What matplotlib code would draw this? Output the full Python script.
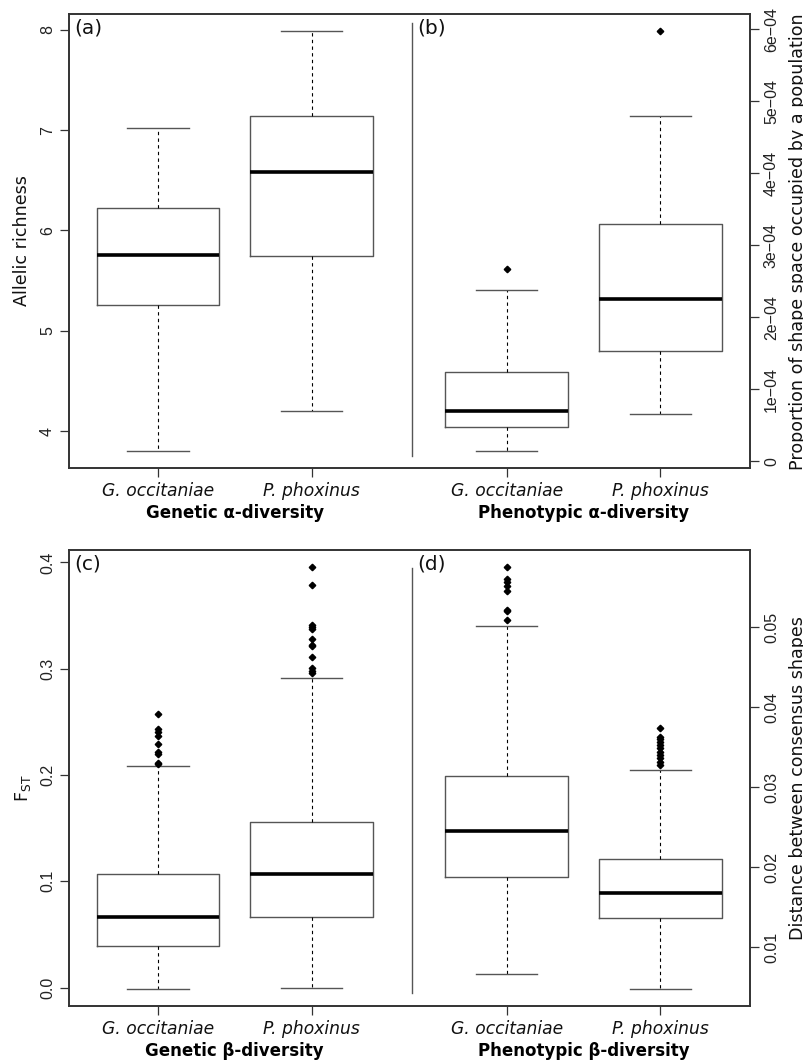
import numpy as np
import matplotlib.pyplot as plt
from matplotlib.transforms import blended_transform_factory

plt.rcParams['font.family'] = ['DejaVu Sans']

species = ['G. occitaniae', 'P. phoxinus']

# (a) allelic richness
ar_lo = [3.80, 4.20]
ar_q1 = [5.26, 5.75]
ar_med = [5.755, 6.586]
ar_q3 = [6.227, 7.143]
ar_hi = [7.02, 7.99]
ar_out = [[], []]

# (b) proportion of shape space occupied, in units of 1e-04
ps_lo = [0.139, 0.656]
ps_q1 = [0.48, 1.529]
ps_med = [0.698, 2.253]
ps_q3 = [1.238, 3.296]
ps_hi = [2.378, 4.788]
ps_out = [[2.673], [5.975]]

# (c) FST
fst_lo = [-0.0015, 0.0]
fst_q1 = [0.0386, 0.0668]
fst_med = [0.0662, 0.1066]
fst_q3 = [0.1069, 0.1561]
fst_hi = [0.2085, 0.2913]
fst_out = [[0.2577, 0.2430, 0.2408, 0.2367, 0.2292, 0.2214, 0.2201, 0.2116, 0.2104],
           [0.3957, 0.3790, 0.3411, 0.3389, 0.3371, 0.3282, 0.3226, 0.3214,
            0.3107, 0.3007, 0.2979, 0.2957]]

# (d) distance between consensus shapes
ds_lo = [0.00658, 0.00475]
ds_q1 = [0.01875, 0.01366]
ds_med = [0.02454, 0.01683]
ds_q3 = [0.03145, 0.02100]
ds_hi = [0.05016, 0.03213]
ds_out = [[0.05758, 0.05604, 0.05563, 0.0552, 0.05458, 0.05216, 0.0520, 0.05088],
          [0.03745, 0.03633, 0.0360, 0.03566, 0.03525, 0.03488, 0.03441, 0.03404,
           0.03363, 0.0332, 0.03279]]

ar_ticks = [4, 5, 6, 7, 8]
ar_labels = ['4', '5', '6', '7', '8']
ps_ticks = [0, 1e-4, 2e-4, 3e-4, 4e-4, 5e-4, 6e-4]
ps_labels = ['0', '1e\u221204', '2e\u221204', '3e\u221204', '4e\u221204', '5e\u221204', '6e\u221204']
fst_ticks = [0.0, 0.1, 0.2, 0.3, 0.4]
fst_labels = ['0.0', '0.1', '0.2', '0.3', '0.4']
ds_ticks = [0.01, 0.02, 0.03, 0.04, 0.05]
ds_labels = ['0.01', '0.02', '0.03', '0.04', '0.05']

W, H = 804, 1061
gen_pos = [1, 2]
phe_pos = [3.27, 4.27]


def make_stats(lo, q1, med, q3, hi, out, scale=1.0):
    return [dict(whislo=lo[i] * scale, q1=q1[i] * scale, med=med[i] * scale,
                 q3=q3[i] * scale, whishi=hi[i] * scale,
                 fliers=np.array(out[i]) * scale) for i in range(2)]


def r_limits(st):
    vals = []
    for s in st:
        vals += [s['whislo'], s['whishi']] + list(s['fliers'])
    lo, hi = min(vals), max(vals)
    pad = 0.04 * (hi - lo)
    return lo - pad, hi + pad


def draw_boxes(ax, st, pos):
    ax.bxp(st, positions=pos, widths=0.8, capwidths=0.4, manage_ticks=False,
           boxprops=dict(color='#555555', lw=1.0),
           medianprops=dict(color='black', lw=2.6, solid_capstyle='butt'),
           whiskerprops=dict(color='black', lw=0.8, linestyle=(0, (3, 3))),
           capprops=dict(color='#555555', lw=1.0),
           flierprops=dict(marker='D', markerfacecolor='black',
                           markeredgecolor='black', markersize=3.3))


fig = plt.figure(figsize=(W / 100, H / 100), dpi=100)

panels = [
    dict(top=14, bottom=468, gen=make_stats(ar_lo, ar_q1, ar_med, ar_q3, ar_hi, ar_out),
         phe=make_stats(ps_lo, ps_q1, ps_med, ps_q3, ps_hi, ps_out, 1e-4),
         lt=(ar_ticks, ar_labels), rt=(ps_ticks, ps_labels),
         letters=('(a)', '(b)'), sep=(0.0264, 0.981),
         xl=('Genetic \u03b1-diversity', 'Phenotypic \u03b1-diversity')),
    dict(top=550, bottom=1006, gen=make_stats(fst_lo, fst_q1, fst_med, fst_q3, fst_hi, fst_out),
         phe=make_stats(ds_lo, ds_q1, ds_med, ds_q3, ds_hi, ds_out),
         lt=(fst_ticks, fst_labels), rt=(ds_ticks, ds_labels),
         letters=('(c)', '(d)'), sep=(0.0279, 0.961),
         xl=('Genetic \u03b2-diversity', 'Phenotypic \u03b2-diversity')),
]

num_font = dict(fontfamily='Liberation Sans', fontsize=11.5)

for p in panels:
    ax = fig.add_axes([69 / W, 1 - p['bottom'] / H, 681 / W, (p['bottom'] - p['top']) / H])
    ax2 = ax.twinx()
    draw_boxes(ax, p['gen'], gen_pos)
    draw_boxes(ax2, p['phe'], phe_pos)
    ax.set_xlim(0.4206, 4.854)
    ax.set_ylim(*r_limits(p['gen']))
    ax2.set_ylim(*r_limits(p['phe']))

    for a in (ax, ax2):
        for sp in a.spines.values():
            sp.set_color('#333333')
            sp.set_linewidth(1.2)
        a.tick_params(direction='out', length=6.5, width=0.9, color='#333333', pad=3.5)

    ax.set_xticks(gen_pos + phe_pos, species * 2, fontstyle='italic', fontsize=12.3,
                  color='#111111')
    ax.set_yticks(p['lt'][0], p['lt'][1], rotation=90, va='center', ha='right',
                  color='#222222', **num_font)
    ax2.set_yticks(p['rt'][0], p['rt'][1], rotation=90, va='center', ha='left',
                   color='#222222', **num_font)

    ax.axvline(2.652, ymin=p['sep'][0], ymax=p['sep'][1], color='#555555', lw=1.0)

    ax.text(0.0075, 0.99, p['letters'][0], transform=ax.transAxes, ha='left', va='top',
            fontsize=14.5, color='#111111')
    ax.text(0.511, 0.99, p['letters'][1], transform=ax.transAxes, ha='left', va='top',
            fontsize=14.5, color='#111111')

    trans = blended_transform_factory(ax.transData, fig.transFigure)
    y_xl = 1 - (p['bottom'] + 45) / H
    ax.text(1.5, y_xl, p['xl'][0], transform=trans, ha='center', va='center',
            fontweight='bold', fontsize=12, clip_on=False)
    ax.text(3.77, y_xl, p['xl'][1], transform=trans, ha='center', va='center',
            fontweight='bold', fontsize=12, clip_on=False)

fig.text(13 / W, 1 - 241 / H, 'Allelic richness', rotation=90, ha='left', va='center',
         fontsize=12.6, color='#111111')
fig.text(789 / W, 1 - 470 / H, 'Proportion of shape space occupied by a population',
         rotation=90, ha='left', va='bottom', fontsize=12.6, color='#111111')
fig.text(13 / W, 1 - 788 / H, r'F$_{\mathregular{ST}}$', rotation=90, ha='left',
         va='center', fontsize=12.6, color='#111111')
fig.text(789 / W, 1 - 778 / H, 'Distance between consensus shapes', rotation=90,
         ha='left', va='center', fontsize=12.6, color='#111111')

fig.savefig('out.png', dpi=100)
